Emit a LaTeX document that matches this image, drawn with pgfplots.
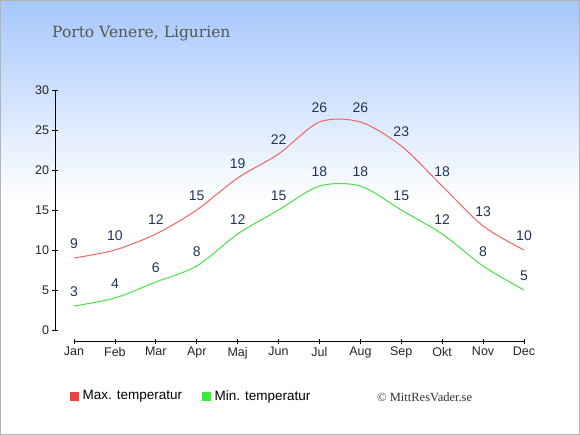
\documentclass[border=0pt]{standalone}
\usepackage{pgfplots}
\pgfplotsset{compat=1.18}
\usepackage{fontspec}
\setmainfont{Liberation Sans}
\newfontfamily\titlefont{DejaVu Serif}
\newfontfamily\copyfont{Liberation Serif}
\definecolor{maxc}{RGB}{240,100,100}
\definecolor{minc}{RGB}{70,225,70}
\definecolor{maxleg}{RGB}{238,68,68}
\definecolor{minleg}{RGB}{51,238,51}
\definecolor{lbl}{RGB}{34,51,85}
\definecolor{bgtop}{RGB}{166,199,252}
\definecolor{bord}{RGB}{180,180,180}
\definecolor{titc}{RGB}{85,85,85}
\begin{document}
\begin{tikzpicture}
\useasboundingbox (-55bp,-94bp) rectangle (525bp,341bp);
\fill[white] (-55bp,-94bp) rectangle (525bp,341bp);
\shade[top color=bgtop, bottom color=white] (-55bp,141bp) rectangle (525bp,341bp);
\draw[bord, line width=1bp] (-54.5bp,-93.5bp) rectangle (524.5bp,340.5bp);
\node[anchor=base west, inner sep=0pt, text=titc, font=\titlefont\fontsize{15.5bp}{18bp}\selectfont] at (-3bp,303bp) {Porto Venere, Ligurien};
\begin{axis}[
  anchor=south west, at={(0pt,0pt)},
  scale only axis, width=469bp, height=251bp,
  xmin=-0.465, xmax=11, ymin=-1.375, ymax=30,
  axis line style={draw=none},
  clip=false,
  tick pos=left,
  tick align=center,
  major tick length=5bp,
  tick style={black, line width=0.8bp},
  xtick={0,...,11},
  xticklabels={Jan,Feb,Mar,Apr,Maj,Jun,Jul,Aug,Sep,Okt,Nov,Dec},
  ytick={0,5,10,15,20,25,30},
  ticklabel style={font=\fontsize{12.5bp}{14bp}\selectfont, text=black!85},
  /pgf/number format/assume math mode=true,
  legend style={at={(0.032,-0.219)}, anchor=west, draw=none, fill=none,
    inner sep=0pt, font=\fontsize{13.5bp}{15bp}\selectfont,
    /tikz/every even column/.append style={column sep=18bp},
    /tikz/every odd column/.append style={column sep=2bp}},
  legend columns=2,
]
\draw[black, line width=0.8bp] (axis cs:-0.465,0) -- (axis cs:-0.465,30);
\draw[black, line width=0.8bp] (axis cs:0,-1.375) -- (axis cs:11,-1.375);
\addplot[maxc, line width=1bp, smooth, mark=none, forget plot,
  nodes near coords,
  every node near coord/.append style={text=lbl, anchor=south, inner sep=0pt, yshift=9bp, font=\fontsize{14bp}{16bp}\selectfont}]
  coordinates {(0,9) (1,10) (2,12) (3,15) (4,19) (5,22) (6,26) (7,26) (8,23) (9,18) (10,13) (11,10)};
\addplot[minc, line width=1bp, smooth, mark=none, forget plot,
  nodes near coords,
  every node near coord/.append style={text=lbl, anchor=south, inner sep=0pt, yshift=9bp, font=\fontsize{14bp}{16bp}\selectfont}]
  coordinates {(0,3) (1,4) (2,6) (3,8) (4,12) (5,15) (6,18) (7,18) (8,15) (9,12) (10,8) (11,5)};
\addlegendimage{legend image code/.code={\fill[maxleg] (0bp,-4bp) rectangle (8bp,4bp);}}
\addlegendentry{Max. temperatur}
\addlegendimage{legend image code/.code={\fill[minleg] (0bp,-4bp) rectangle (8bp,4bp);}}
\addlegendentry{Min. temperatur}
\end{axis}
\node[anchor=west, inner sep=0pt, text=black!80, font=\copyfont\fontsize{12.5bp}{14bp}\selectfont] at (322bp,-56bp) {© MittResVader.se};
\end{tikzpicture}
\end{document}
